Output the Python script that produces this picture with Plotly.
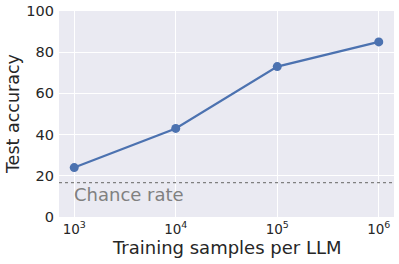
import plotly.graph_objects as go

samples = [1e3, 1e4, 1e5, 1e6]
accuracy = [24, 43, 73, 85]
chance_rate = 100 / 6
x_tick_vals = [1e3, 1e4, 1e5, 1e6]
x_tick_text = ["10<sup>3</sup>", "10<sup>4</sup>", "10<sup>5</sup>", "10<sup>6</sup>"]
y_tick_vals = [0, 20, 40, 60, 80, 100]

FONT = "DejaVu Sans"
fig = go.Figure()
fig.add_trace(go.Scatter(
    x=samples, y=accuracy, mode="lines+markers",
    line=dict(color="#4C72B0", width=2.2),
    marker=dict(color="#4C72B0", size=9),
    showlegend=False,
))
fig.add_shape(type="line", xref="paper", x0=0, x1=1, yref="y", y0=chance_rate, y1=chance_rate,
              line=dict(color="#808080", width=1.3, dash="dot"))
fig.add_annotation(x=3, y=10.7, xref="x", yref="y", text="Chance rate", showarrow=False,
                   xanchor="left", yanchor="middle", xshift=-2,
                   font=dict(family=FONT, size=18, color="#808080"))
fig.add_annotation(x=0.5, y=-0.15, xref="paper", yref="paper", text="Training samples per LLM",
                   showarrow=False, xanchor="center", yanchor="middle",
                   font=dict(family=FONT, size=18, color="#262626"))
fig.add_annotation(x=-0.137, y=0.5, xref="paper", yref="paper", text="Test accuracy",
                   showarrow=False, xanchor="center", yanchor="middle", textangle=-90,
                   font=dict(family=FONT, size=17.5, color="#262626"))
fig.update_layout(
    width=399, height=264,
    margin=dict(l=59, r=5, t=11, b=47),
    paper_bgcolor="white", plot_bgcolor="#EAEAF2",
    font=dict(family=FONT, size=14, color="#262626"),
)
fig.update_xaxes(type="log", range=[2.85, 6.15], tickvals=x_tick_vals, ticktext=x_tick_text,
                 showgrid=True, gridcolor="white", gridwidth=1, zeroline=False, ticks="",
                 tickfont=dict(size=13.5), automargin=False, ticklabelstandoff=2)
fig.update_yaxes(range=[0, 100], tickvals=y_tick_vals, showgrid=True, gridcolor="white",
                 gridwidth=1, zeroline=False, ticks="", tickfont=dict(size=14.5),
                 automargin=False, ticklabelstandoff=4)
fig.write_html("out.html", config={"displayModeBar": False},
               post_script="document.body.style.margin='0';")
